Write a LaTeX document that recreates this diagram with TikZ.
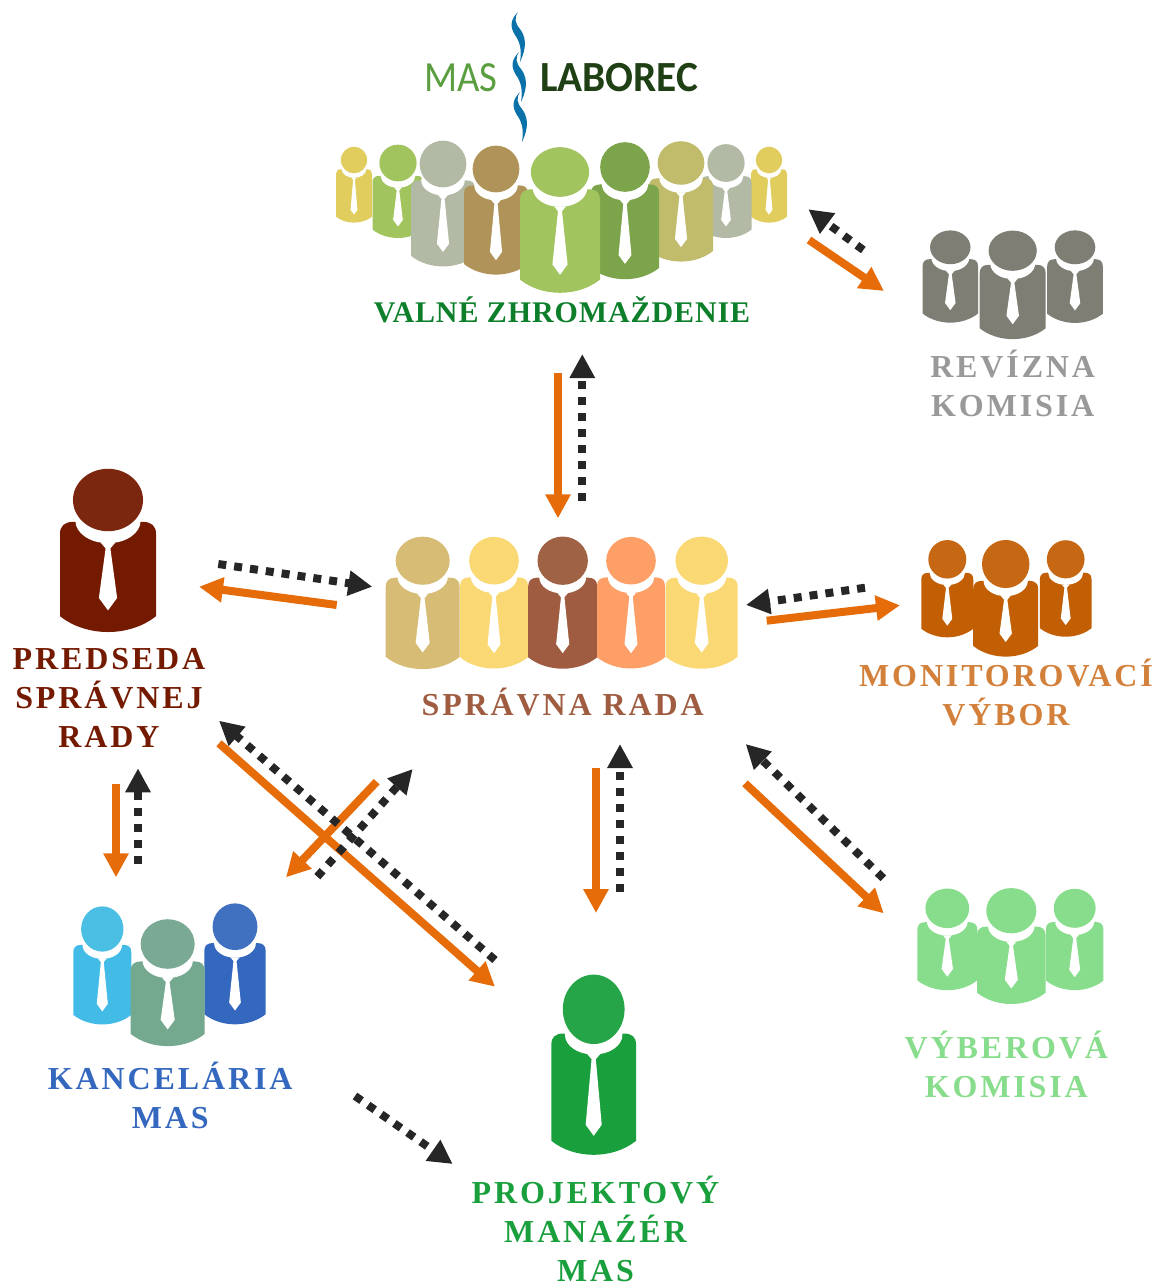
\documentclass[tikz,border=0pt]{standalone}
\usepackage{fontspec}
\usetikzlibrary{arrows.meta}
\setmainfont{Liberation Serif}
\newfontfamily\labelfont[LetterSpace=9]{Liberation Serif}
\newfontfamily\tightfont[LetterSpace=3]{Liberation Serif}
\newfontfamily\logofont{Carlito}
\definecolor{arroworange}{HTML}{E66C0A}
\definecolor{arrowblack}{HTML}{262626}
\definecolor{logoblue}{HTML}{0A72A8}
\definecolor{logogreen}{HTML}{5A9E3F}
\definecolor{logodark}{HTML}{1F3F14}
\definecolor{zyellow}{HTML}{E0CD5E}
\definecolor{zlime}{HTML}{A2C45E}
\definecolor{zgrey}{HTML}{B2B9A4}
\definecolor{zkhaki}{HTML}{C1BB6C}
\definecolor{zbrown}{HTML}{B09358}
\definecolor{zgreen}{HTML}{7CA44A}
\definecolor{rkhaki}{HTML}{D6BC75}
\definecolor{ryellow}{HTML}{FAD873}
\definecolor{rbrown}{HTML}{9F5C40}
\definecolor{rbrownh}{HTML}{A06244}
\definecolor{rorange}{HTML}{FF9F68}
\definecolor{rev}{HTML}{7F7E74}
\definecolor{mon}{HTML}{C25F05}
\definecolor{monh}{HTML}{C66713}
\definecolor{vyb}{HTML}{88DD8C}
\definecolor{klight}{HTML}{42BCE6}
\definecolor{klighth}{HTML}{4BBFE3}
\definecolor{kblue}{HTML}{3468BE}
\definecolor{kblueh}{HTML}{4070C0}
\definecolor{kgreen}{HTML}{74A88F}
\definecolor{kgreenh}{HTML}{7AAA93}
\definecolor{pres}{HTML}{731A00}
\definecolor{presh}{HTML}{7B260F}
\definecolor{proj}{HTML}{1A9F3D}
\definecolor{projh}{HTML}{25A548}
\definecolor{vzcol}{HTML}{0D7F2B}
\definecolor{revcol}{HTML}{999999}
\definecolor{moncol}{HTML}{D2803A}
% x, y of the head, half width, end of body, height of head, suit, head
\newcommand{\person}[7]{
  \begin{scope}[shift={(#1,#2)},scale=#3]
    \pgfmathsetmacro{\ptop}{.7*#5}
    \pgfmathsetmacro{\pside}{#4-.33}
    \pgfmathsetmacro{\pctl}{#4+.11}
    \pgfmathsetmacro{\pcollar}{#5-.22}
    \pgfmathsetmacro{\pknot}{#5+.24}
    \pgfmathsetmacro{\pneck}{#5+.36}
    \pgfmathsetmacro{\ptip}{#4-.45}
    \pgfmathsetmacro{\pwide}{#4-.71}
    \fill[#6] (-1,\pside) -- (-1,\ptop+.25) .. controls (-1,\ptop+.08) and (-.9,\ptop) .. (-.72,\ptop)
      -- (.72,\ptop) .. controls (.9,\ptop) and (1,\ptop+.08) .. (1,\ptop+.25) -- (1,\pside)
      .. controls (.45,\pctl) and (-.45,\pctl) .. (-1,\pside) -- cycle;
    \fill[white] (0,\pcollar) ellipse (.68 and .47);
    \fill[white] (-.15,\pknot) -- (.15,\pknot) -- (.05,\pneck) -- (.19,\pwide) -- (0,\ptip)
      -- (-.19,\pwide) -- (-.05,\pneck) -- cycle;
    \fill[#7] (0,0) ellipse (.73 and #5);
  \end{scope}}
% top of one piece of the river in the logo
\newcommand{\logowave}[2]{
  \fill[logoblue,shift={(#1,#2)}] (0,0) .. controls (-4,6) and (-3,11) .. (2,17)
    .. controls (7,24) and (10,33) .. (2,50) .. controls (4,38) and (2,30) .. (-3,23)
    .. controls (-8,15) and (-8,8) .. (0,0) -- cycle;}

\begin{document}
\begin{tikzpicture}
    [x=1pt,y=-1pt,
    orangearrow/.style={arroworange,line width=8pt,-{Triangle[width=24pt,length=24pt]}},
    blackarrow/.style={arrowblack,line width=8pt,dash pattern=on 8pt off 8pt,-{Triangle[width=24pt,length=24pt]}},
    lab/.style={anchor=base,align=center,inner sep=0pt,font=\fontsize{32}{39}\selectfont\labelfont\bfseries}]
    \useasboundingbox (0,0) rectangle (1157,1286);
    % logo
    \node[anchor=base west,inner sep=0pt,xscale=.9,font=\fontsize{43}{43}\selectfont\logofont,text=logogreen] (logomas) at (424,91.7){MAS};
    \node[anchor=base west,inner sep=0pt,xscale=.96,font=\fontsize{43}{43}\selectfont\logofont\bfseries,text=logodark] (logolab) at (540,91.7){LABOREC};
    \logowave{518}{12}
    \logowave{519}{52}
    \logowave{520}{92}
    % valne zhromazdenie
    \person{354}{160}{18}{3.48}{.74}{zyellow}{zyellow}
    \person{769}{160}{18}{3.48}{.74}{zyellow}{zyellow}
    \person{398}{163}{25.5}{2.94}{.72}{zlime}{zlime}
    \person{726}{163}{25.5}{2.94}{.74}{zgrey}{zgrey}
    \person{443}{164}{32}{3.2}{.73}{zgrey}{zgrey}
    \person{681}{163}{32}{3.08}{.68}{zkhaki}{zkhaki}
    \person{496}{169}{32}{3.3}{.73}{zbrown}{zbrown}
    \person{625}{167}{34}{3.3}{.73}{zgreen}{zgreen}
    \person{560}{172}{40}{3.02}{.62}{zlime}{zlime}
    % spravna rada
    \person{422.7}{560.7}{37}{2.93}{.65}{rkhaki}{rkhaki}
    \person{494}{560.7}{34}{3.17}{.7}{ryellow}{ryellow}
    \person{562.7}{560.7}{34.5}{3.13}{.7}{rbrown}{rbrownh}
    \person{631}{560.7}{34}{3.17}{.7}{rorange}{rorange}
    \person{701.7}{560.7}{36}{3}{.67}{ryellow}{ryellow}
    % revizna komisia
    \person{950.3}{247.3}{27.7}{2.72}{.61}{rev}{rev}
    \person{1075}{247.3}{27.8}{2.72}{.61}{rev}{rev}
    \person{1012.7}{250.7}{33}{2.68}{.61}{rev}{rev}
    % monitorovaci vybor
    \person{947.3}{559.3}{26}{3}{.74}{mon}{monh}
    \person{1065.7}{559.3}{25.8}{3}{.74}{mon}{monh}
    \person{1005.7}{564}{32.5}{2.85}{.74}{mon}{monh}
    % vyberova komisia
    \person{947.3}{908.3}{30}{2.73}{.66}{vyb}{vyb}
    \person{1074.7}{908.3}{28.7}{2.85}{.68}{vyb}{vyb}
    \person{1011.3}{910.7}{34.3}{2.72}{.66}{vyb}{vyb}
    % kancelaria
    \person{102.3}{929}{29}{3.29}{.78}{klight}{klighth}
    \person{235}{926.7}{30.7}{3.18}{.76}{kblue}{kblueh}
    \person{167.7}{944}{37}{2.76}{.67}{kgreen}{kgreenh}
    % predseda, manazer
    \person{108}{500}{48}{2.75}{.65}{pres}{presh}
    \person{593.7}{1009.3}{42.3}{3.44}{.82}{proj}{projh}
    % labels
    \node[lab,text=vzcol,font=\fontsize{30}{39}\selectfont\tightfont\bfseries] (textvz) at (562,322){VALNÉ ZHROMAŽDENIE};
    \node[lab,text=rbrown] (textsr) at (562.7,715){SPRÁVNA RADA};
    \node[lab,text=revcol] (textrev) at (1012.7,416){REVÍZNA\\KOMISIA};
    \node[lab,text=moncol] (textmon) at (1006,725){MONITOROVACÍ\\VÝBOR};
    \node[lab,text=vyb] (textvyb) at (1006.3,1097){VÝBEROVÁ\\KOMISIA};
    \node[lab,text=kblue] (textkan) at (170.3,1128){KANCELÁRIA\\MAS};
    \node[lab,text=pres] (textpres) at (109,747){PREDSEDA\\SPRÁVNEJ\\RADY};
    \node[lab,text=proj,text depth=0pt] (textproj) at (595.5,1281){PROJEKTOVÝ\\MANAŹÉR\\MAS};
    % ends of the arrows
    \coordinate (vzreva) at (809,240);      \coordinate (vzrevb) at (884,291);
    \coordinate (revvza) at (863.3,250);    \coordinate (revvzb) at (808.3,209.3);
    \coordinate (vzsra) at (558,373.3);     \coordinate (vzsrb) at (558,518.3);
    \coordinate (srvza) at (582.3,500.7);   \coordinate (srvzb) at (582.3,354);
    \coordinate (srpra) at (336.7,605);     \coordinate (srprb) at (199,586.7);
    \coordinate (prsra) at (218.3,564);     \coordinate (prsrb) at (372.3,586.7);
    \coordinate (srmona) at (766.7,620.7);  \coordinate (srmonb) at (900,605.3);
    \coordinate (monsra) at (865,587.7);    \coordinate (monsrb) at (746,605);
    \coordinate (srvyba) at (745,783.3);    \coordinate (srvybb) at (883.7,913.3);
    \coordinate (vybsra) at (883.3,878.3);  \coordinate (vybsrb) at (745.7,744);
    \coordinate (srproa) at (596,768);      \coordinate (srprob) at (596,913);
    \coordinate (prosra) at (620,892);      \coordinate (prosrb) at (620,744);
    \coordinate (prkana) at (116,784);      \coordinate (prkanb) at (116,877.3);
    \coordinate (kanpra) at (138,864.3);    \coordinate (kanprb) at (138,768.3);
    \coordinate (prproa) at (219,743.3);    \coordinate (prprob) at (495,986.7);
    \coordinate (propra) at (495,960);      \coordinate (proprb) at (219,720.7);
    \coordinate (srkana) at (376.7,781.7);  \coordinate (srkanb) at (286,877.3);
    \coordinate (kansra) at (317.3,876.7);  \coordinate (kansrb) at (412.7,769);
    \coordinate (kanproa) at (355,1096);    \coordinate (kanprob) at (452.7,1164);
    % arrows
    \draw[blackarrow] (revvza) -- (revvzb);
    \draw[orangearrow] (vzreva) -- (vzrevb);
    \draw[blackarrow] (srvza) -- (srvzb);
    \draw[orangearrow] (vzsra) -- (vzsrb);
    \draw[blackarrow] (prsra) -- (prsrb);
    \draw[orangearrow] (srpra) -- (srprb);
    \draw[blackarrow] (monsra) -- (monsrb);
    \draw[orangearrow] (srmona) -- (srmonb);
    \draw[blackarrow] (vybsra) -- (vybsrb);
    \draw[orangearrow] (srvyba) -- (srvybb);
    \draw[blackarrow] (prosra) -- (prosrb);
    \draw[orangearrow] (srproa) -- (srprob);
    \draw[blackarrow] (kanpra) -- (kanprb);
    \draw[orangearrow] (prkana) -- (prkanb);
    \draw[orangearrow] (prproa) -- (prprob);
    \draw[orangearrow] (srkana) -- (srkanb);
    \draw[blackarrow] (propra) -- (proprb);
    \draw[blackarrow] (kansra) -- (kansrb);
    \draw[blackarrow] (kanproa) -- (kanprob);
\end{tikzpicture}
\end{document}
